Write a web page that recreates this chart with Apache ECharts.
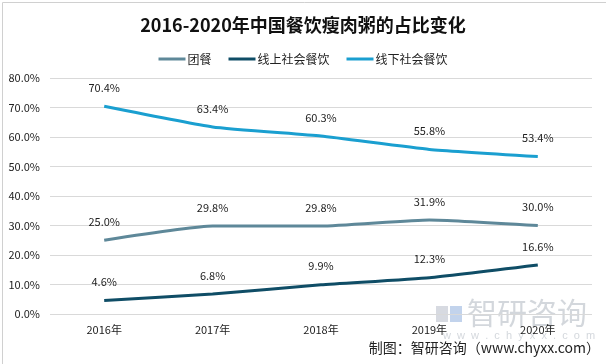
<!DOCTYPE html>
<html><head><meta charset="utf-8">
<script src="https://cdn.jsdelivr.net/npm/echarts@6/dist/echarts.min.js"></script>
<style>html,body{margin:0;padding:0;background:#fff}#c{width:606px;height:364px}</style>
</head><body><div id="c"></div>
<script>
const categories = ['2016年','2017年','2018年','2019年','2020年'];
const tuanCan = [25.0, 29.8, 29.8, 31.9, 30.0];
const online = [4.6, 6.8, 9.9, 12.3, 16.6];
const offline = [70.4, 63.4, 60.3, 55.8, 53.4];
const yTicks = [0, 10, 20, 30, 40, 50, 60, 70, 80];

const chart = echarts.init(document.getElementById('c'), null, {renderer:'canvas'});
const font = '"Microsoft YaHei","Noto Sans CJK SC",sans-serif';
function mk(name, data, color) {
  return {
    name, type:'line', data, smooth:0.15, symbol:'circle', symbolSize:0, showSymbol:true,
    lineStyle:{color, width:3}, itemStyle:{color},
    label:{show:true, position:'top', distance:13, color:'#222', fontSize:11,
      fontFamily:font, formatter:p=>p.value.toFixed(1)+'%'}
  };
}
chart.setOption({
  animation:false,
  title:{text:'2016-2020年中国餐饮瘦肉粥的占比变化', left:'center', top:11,
    textStyle:{fontSize:18, fontWeight:'bold', color:'#111', fontFamily:font}},
  legend:{top:48, left:'center', itemWidth:27, itemHeight:3, itemGap:17,
    icon:'rect', textStyle:{fontSize:12, color:'#222', fontFamily:font, padding:[0,0,0,-3]},
    data:['团餐','线上社会餐饮','线下社会餐饮']},
  grid:{left:50, right:14, top:78, bottom:50},
  xAxis:{type:'category', data:categories, boundaryGap:true,
    axisLine:{show:false}, axisTick:{show:false},
    axisLabel:{color:'#222', fontSize:11, margin:10, fontFamily:font}},
  yAxis:{type:'value', min:yTicks[0], max:yTicks[yTicks.length-1], interval:10,
    axisLine:{show:false}, axisTick:{show:false},
    axisLabel:{color:'#222', fontSize:11, margin:10, fontFamily:font, formatter:v=>v.toFixed(1)+'%'},
    splitLine:{lineStyle:{color:'#d9d9d9', width:1}}},
  series:[mk('团餐', tuanCan, '#5e8899'), mk('线上社会餐饮', online, '#0f4d66'), mk('线下社会餐饮', offline, '#1a9fd0')],
  graphic:[
    {type:'rect', left:0, top:0, shape:{width:605, height:363}, style:{fill:'none', stroke:'#d0d0d0', lineWidth:1}, silent:true},
    {type:'rect', left:436, top:306, shape:{width:12, height:16}, style:{fill:'rgba(140,150,170,0.35)'}, silent:true},
    {type:'rect', left:450, top:306, shape:{width:12, height:16}, style:{fill:'rgba(80,130,200,0.35)'}, silent:true},
    {type:'text', left:467, top:298, style:{text:'智研咨询', fill:'rgba(130,140,155,0.35)', font:'30px "Noto Sans CJK SC"'}, silent:true},
    {type:'text', left:443, top:330, style:{text:'w  w  w  .  c  h  y  x  x  .  c  o  m', fill:'rgba(130,140,155,0.35)', font:'11px sans-serif'}, silent:true},
    {type:'text', right:6, top:341, style:{text:'制图：智研咨询（www.chyxx.com）', fill:'#222', font:'14px "Noto Sans CJK SC"'}}
  ]
});
</script></body></html>
